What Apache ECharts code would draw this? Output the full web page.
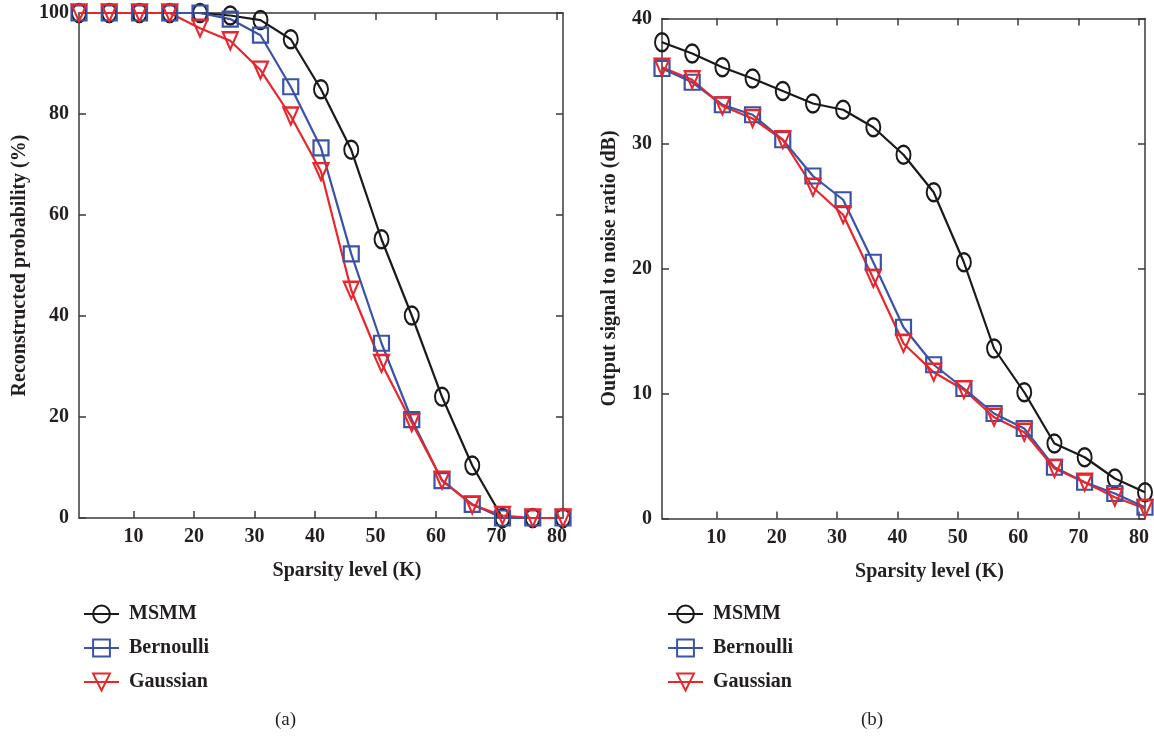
<!DOCTYPE html>
<html>
<head>
<meta charset="utf-8">
<script src="https://cdn.jsdelivr.net/npm/echarts@6/dist/echarts.min.js"></script>
<style>
html,body{margin:0;padding:0;background:#fff;}
#c{width:1154px;height:738px;}
</style>
</head>
<body>
<div id="c"></div>
<script>
// ---- data ----
const sparsityK = [1, 6, 11, 16, 21, 26, 31, 36, 41, 46, 51, 56, 61, 66, 71, 76, 81];
const xTickLabels = [10, 20, 30, 40, 50, 60, 70, 80];
const seriesNames = ['MSMM', 'Bernoulli', 'Gaussian'];

const probMSMM  = [100, 100, 100, 100, 100, 99.5, 98.6, 94.8, 84.9, 72.9, 55.2, 40.1, 24.0, 10.4, 0, 0, 0];
const probBern  = [100, 100, 100, 100, 100, 98.8, 95.6, 85.4, 73.3, 52.3, 34.6, 19.5, 7.4, 2.7, 0, 0, 0];
const probGauss = [100, 100, 100, 100, 97, 94.5, 88.7, 79.6, 68.6, 45.1, 30.6, 18.9, 7.5, 2.6, 0.5, 0, 0];

const snrMSMM  = [38.1, 37.2, 36.1, 35.2, 34.2, 33.2, 32.7, 31.3, 29.1, 26.1, 20.5, 13.6, 10.1, 6.0, 4.9, 3.2, 2.1];
const snrBern  = [36.0, 34.9, 33.1, 32.3, 30.3, 27.4, 25.5, 20.5, 15.3, 12.3, 10.4, 8.4, 7.2, 4.1, 2.9, 2.0, 0.9];
const snrGauss = [36.1, 35.1, 33.0, 32.0, 30.3, 26.5, 24.3, 19.2, 14.0, 11.7, 10.3, 8.1, 6.9, 4.0, 2.9, 1.7, 0.8];

// ---- style ----
const FONT = '"Liberation Serif", "DejaVu Serif", serif';
const TXT = '#231f20';
const AX = '#3a3a3a';
const COLORS = {MSMM: '#1a1a1a', Bernoulli: '#3a53a4', Gaussian: '#e8262b'};
const SYMBOLS = {
  MSMM: 'path://M5,0 A5,5 0 1 1 5,10 A5,5 0 1 1 5,0 Z',
  Bernoulli: 'rect',
  Gaussian: 'path://M0,0 L10,0 L5,10 Z'
};
const SIZES = {MSMM: [14, 18], Bernoulli: 15, Gaussian: [15, 17]};

function pair(xs, ys) { return xs.map((x, i) => [x, ys[i]]); }

function mkSeries(name, ys, gi) {
  return {
    type: 'line', name: name,
    xAxisIndex: gi * 2, yAxisIndex: gi * 2,
    data: pair(sparsityK, ys),
    clip: false,
    symbol: SYMBOLS[name], symbolSize: SIZES[name],
    lineStyle: {color: COLORS[name], width: 2.2},
    itemStyle: {color: 'rgba(255,255,255,0)', borderColor: COLORS[name], borderWidth: 2.2},
    emphasis: {disabled: true},
    z: 3
  };
}

function xAxes(gi, name) {
  const base = {
    type: 'value', gridIndex: gi, min: 1, max: 81,
    splitLine: {show: false},
    axisLine: {show: true, onZero: false, lineStyle: {color: AX, width: 1.5}},
    axisTick: {show: true, inside: true, length: 7, customValues: xTickLabels, lineStyle: {color: AX, width: 1.5}}
  };
  return [
    Object.assign({}, base, {
      position: 'bottom',
      name: name, nameLocation: 'middle', nameGap: 43,
      nameTextStyle: {fontFamily: FONT, fontWeight: 'bold', fontSize: 20, color: TXT, padding: [0, 0, 0, 52]},
      axisLabel: {show: true, customValues: xTickLabels, margin: 9, fontFamily: FONT, fontWeight: 'bold', fontSize: 20, color: TXT}
    }),
    Object.assign({}, base, {position: 'top', axisLabel: {show: false}})
  ];
}

function yAxes(gi, max, interval, name, gap) {
  const base = {
    type: 'value', gridIndex: gi, min: 0, max: max, interval: interval,
    splitLine: {show: false},
    axisLine: {show: true, onZero: false, lineStyle: {color: AX, width: 1.5}},
    axisTick: {show: true, inside: true, length: 7, lineStyle: {color: AX, width: 1.5}}
  };
  return [
    Object.assign({}, base, {
      position: 'left',
      name: name, nameLocation: 'middle', nameGap: gap,
      nameTextStyle: {fontFamily: FONT, fontWeight: 'bold', fontSize: 20, color: TXT},
      axisLabel: {show: true, margin: 10, fontFamily: FONT, fontWeight: 'bold', fontSize: 20, color: TXT}
    }),
    Object.assign({}, base, {position: 'right', axisLabel: {show: false}})
  ];
}

function legend(left) {
  return {
    left: left, top: 599, orient: 'vertical',
    itemWidth: 35, itemHeight: 21, itemGap: 14,
    data: seriesNames,
    selectedMode: false,
    textStyle: {fontFamily: FONT, fontWeight: 'bold', fontSize: 20, color: TXT, padding: [0, 0, 0, 5]}
  };
}

const chart = echarts.init(document.getElementById('c'), null, {renderer: 'canvas'});
chart.setOption({
  animation: false,
  backgroundColor: '#fff',
  grid: [
    {left: 79, top: 13, width: 484, height: 505},
    {left: 662, top: 18.5, width: 483, height: 500}
  ],
  xAxis: xAxes(0, 'Sparsity level (K)').concat(xAxes(1, 'Sparsity level (K)')),
  yAxis: yAxes(0, 100, 20, 'Reconstructed probability (%)', 49)
    .concat(yAxes(1, 40, 10, 'Output signal to noise ratio (dB)', 42)),
  legend: [legend(78), legend(662)],
  series: [
    mkSeries('MSMM', probMSMM, 0),
    mkSeries('Bernoulli', probBern, 0),
    mkSeries('Gaussian', probGauss, 0),
    mkSeries('MSMM', snrMSMM, 1),
    mkSeries('Bernoulli', snrBern, 1),
    mkSeries('Gaussian', snrGauss, 1)
  ],
  graphic: [
    {type: 'text', left: 275, top: 711, style: {text: '(a)', font: '19px ' + FONT, fill: TXT}},
    {type: 'text', left: 861, top: 711, style: {text: '(b)', font: '19px ' + FONT, fill: TXT}}
  ]
});
</script>
</body>
</html>
